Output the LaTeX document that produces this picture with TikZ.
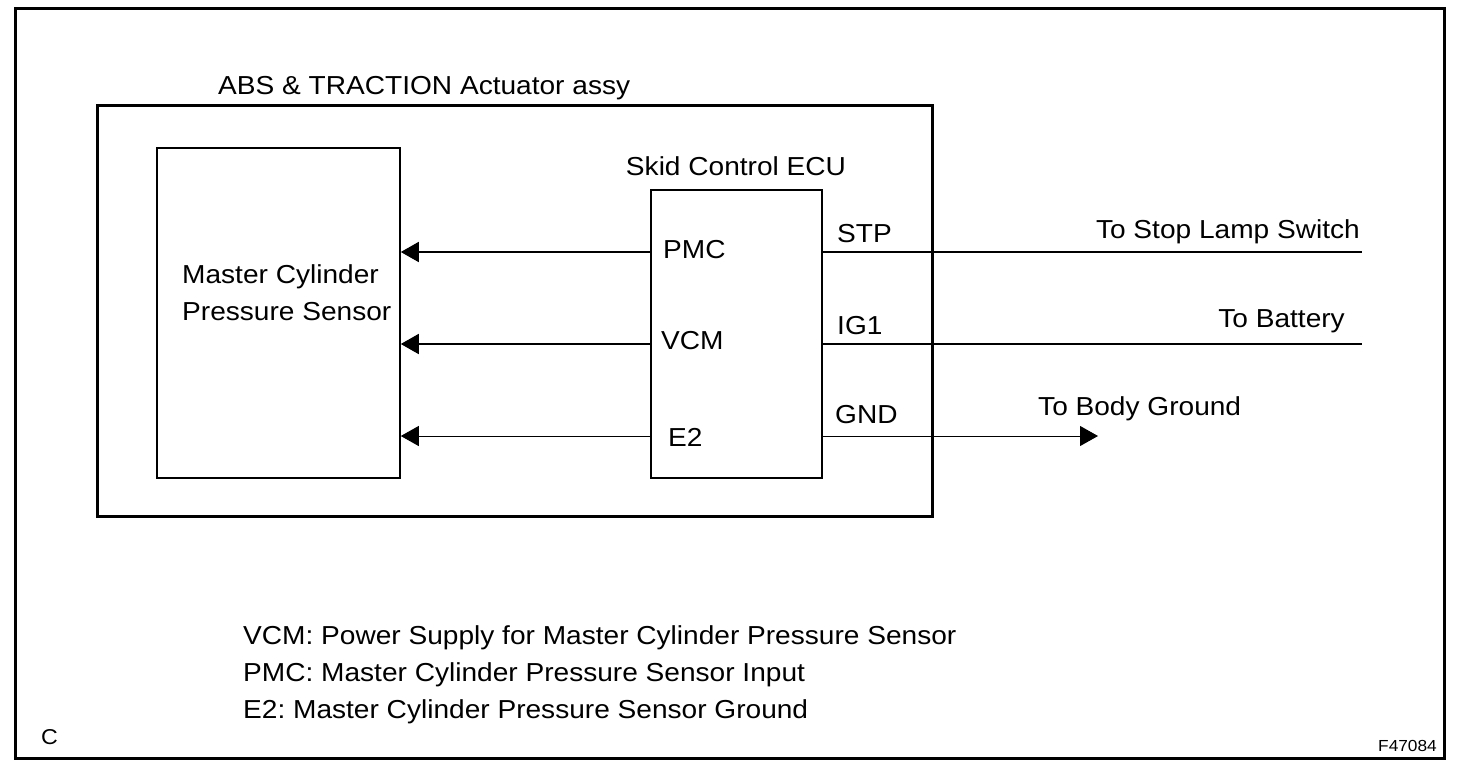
\documentclass[tikz,border=0pt]{standalone}
\usepackage{fontspec}
\setmainfont[FakeStretch=1.08]{Liberation Sans}
\usetikzlibrary{arrows.meta}
\begin{document}
\frenchspacing
\begin{tikzpicture}[x=1pt,y=-1pt,
  txt/.style={inner sep=0pt,font=\fontsize{26}{30}\selectfont},
  box/.style={draw,line width=1.6pt,minimum width=#1,inner sep=0pt},
  arr/.style={line width=1.8pt,-{Triangle[length=18pt,width=20pt]}},
  arrthin/.style={line width=1pt,-{Triangle[length=18pt,width=20pt]}},
  wire/.style={line width=1.6pt}]
\useasboundingbox (0,0) rectangle (1472,774);
\fill[white] (0,0) rectangle (1472,774);
\draw[line width=3pt] (15.5,8) rectangle (1444.5,758.5);
% actuator
\node[draw,line width=3pt,minimum width=835pt,minimum height=411pt,inner sep=0pt] (act) at (514.5,310.5) {};
\node[txt,anchor=base west] (actlbl) at (218,94) {ABS \& TRACTION Actuator assy};
% sensor
\node[box=243pt,minimum height=330pt] (sensor) at (278.5,313) {};
\node[txt,anchor=base west] (senslbl) at (182,283) {Master Cylinder};
\node[txt,anchor=base west] (senslbl2) at (182,320) {Pressure Sensor};
% ecu
\node[box=171pt,minimum height=288pt] (ecu) at (736.5,334) {};
\node[txt,anchor=base] (eculbl) at (736,175) {Skid Control ECU};
\node[txt,anchor=base west] (pmc) at (663,258) {PMC};
\node[txt,anchor=base west] (vcm) at (661,349) {VCM};
\node[txt,anchor=base west] (e2) at (668,446) {E2};
\node[txt,anchor=base west] (stp) at (837,242) {STP};
\node[txt,anchor=base west] (ig1) at (837,334) {IG1};
\node[txt,anchor=base west] (gnd) at (835,423) {GND};
% arrows to sensor
\draw[arr] (ecu.west |- 0,252) -- (sensor.east |- 0,252);
\draw[arr] (ecu.west |- 0,344) -- (sensor.east |- 0,344);
\draw[arrthin] (ecu.west |- 0,436) -- (sensor.east |- 0,436);
% right side
\coordinate (stpend) at (1362,252);
\coordinate (ig1end) at (1362,344);
\coordinate (gndend) at (1098,436);
\draw[wire] (ecu.east |- stpend) -- (stpend);
\draw[wire] (ecu.east |- ig1end) -- (ig1end);
\draw[arrthin] (ecu.east |- gndend) -- (gndend);
\node[txt,anchor=base east] (tostop) at (1360,238) {To Stop Lamp Switch};
\node[txt,anchor=base east] (tobat) at (1345,327) {To Battery};
\node[txt,anchor=base west] (tobody) at (1038,415) {To Body Ground};
% legend
\node[txt,anchor=base west] (leg1) at (243,644) {VCM: Power Supply for Master Cylinder Pressure Sensor};
\node[txt,anchor=base west] (leg2) at (243,681) {PMC: Master Cylinder Pressure Sensor Input};
\node[txt,anchor=base west] (leg3) at (243,718) {E2: Master Cylinder Pressure Sensor Ground};
\node[inner sep=0pt,anchor=base west,font=\fontsize{21.5}{26}\selectfont] (c) at (41,744) {C};
\node[inner sep=0pt,anchor=base east,font=\fontsize{16}{20}\selectfont] (fig) at (1437,751) {F47084};
\end{tikzpicture}
\end{document}
